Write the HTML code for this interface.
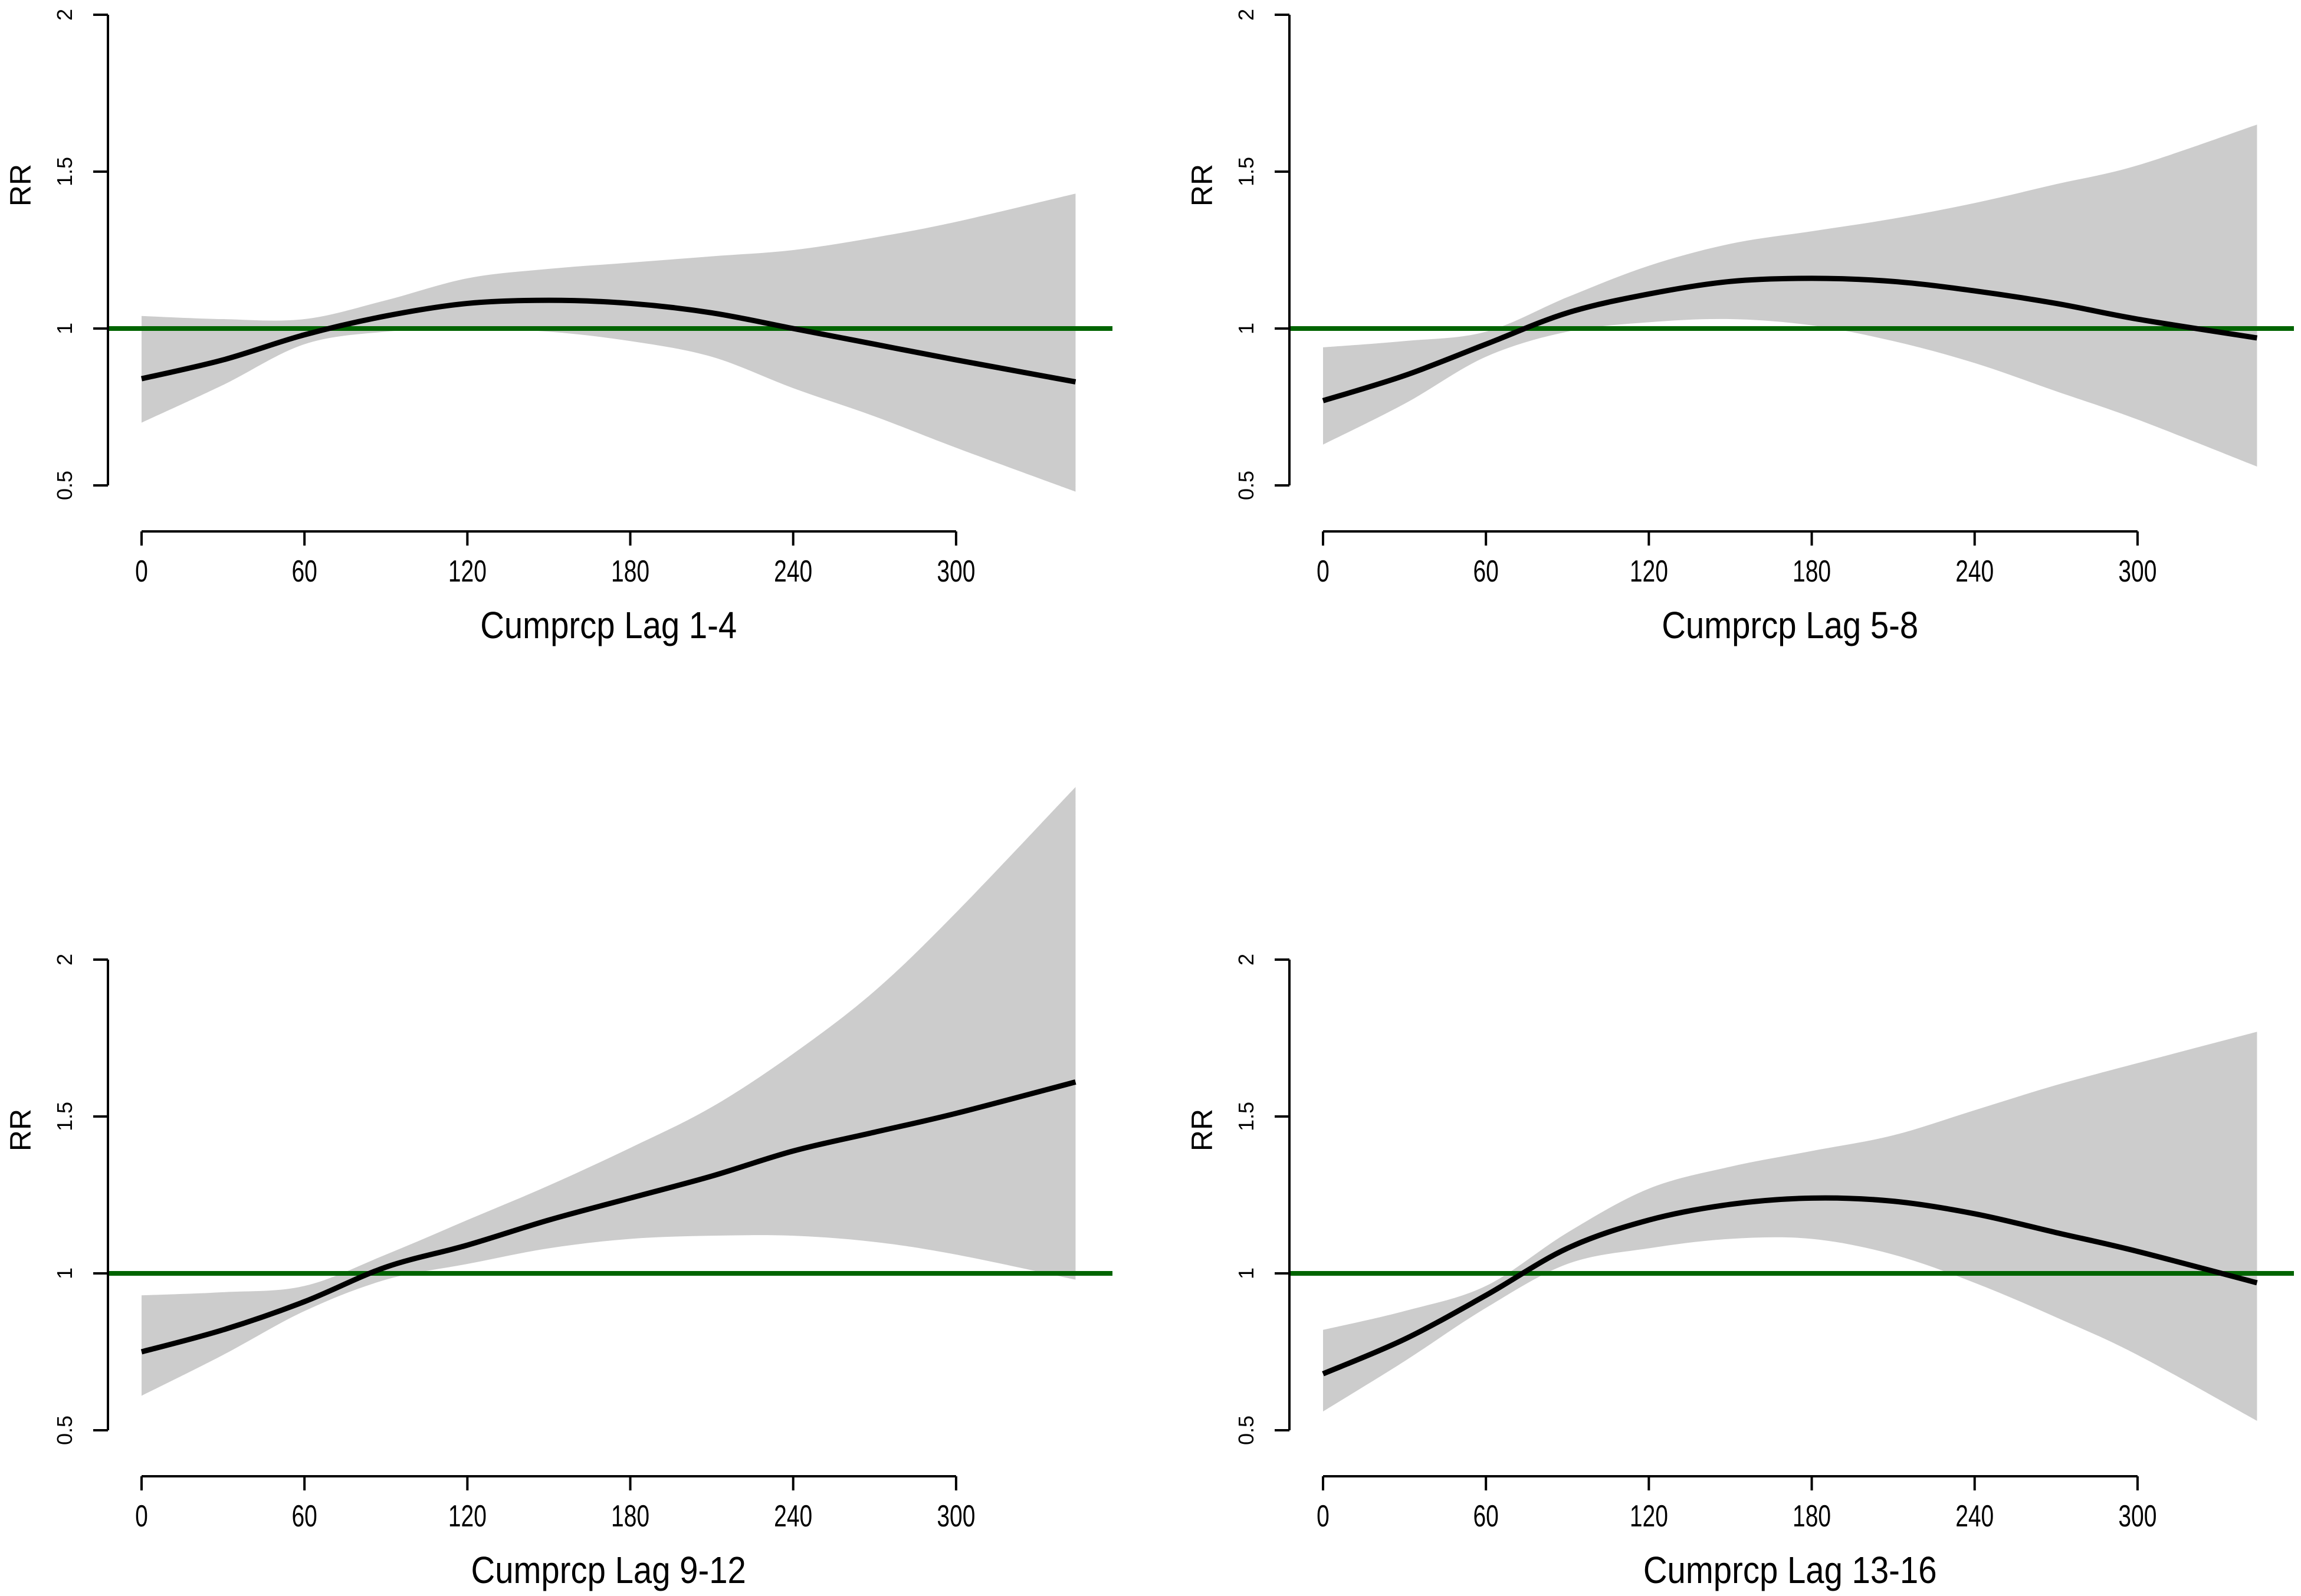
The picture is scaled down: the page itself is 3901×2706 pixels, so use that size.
<!DOCTYPE html>
<html><head><meta charset="utf-8"><style>
html,body{margin:0;padding:0;background:#fff;}
svg{display:block;}
text{font-family:"Liberation Sans",sans-serif;fill:#000;}
</style></head><body>
<svg id="chart" width="3901" height="2706" viewBox="0 0 3901 2706" xmlns="http://www.w3.org/2000/svg"></svg>
<script>
const xs = [0,30,60,90,120,150,180,210,240,270,300,344];
const titles = ["Cumprcp Lag 1-4","Cumprcp Lag 5-8","Cumprcp Lag 9-12","Cumprcp Lag 13-16"];
const fit1 = [0.84,0.90,0.98,1.04,1.08,1.09,1.08,1.05,1.00,0.95,0.90,0.83];
const lo1  = [0.70,0.82,0.95,0.99,1.00,0.99,0.96,0.91,0.81,0.72,0.62,0.48];
const hi1  = [1.04,1.03,1.03,1.09,1.16,1.19,1.21,1.23,1.25,1.29,1.34,1.43];
const fit2 = [0.77,0.85,0.95,1.05,1.11,1.15,1.16,1.15,1.12,1.08,1.03,0.97];
const lo2  = [0.63,0.76,0.91,0.99,1.02,1.03,1.01,0.96,0.89,0.80,0.71,0.56];
const hi2  = [0.94,0.96,0.99,1.10,1.20,1.27,1.31,1.35,1.40,1.46,1.52,1.65];
const fit3 = [0.75,0.82,0.91,1.02,1.09,1.17,1.24,1.31,1.39,1.45,1.51,1.61];
const lo3  = [0.61,0.74,0.88,0.98,1.03,1.08,1.11,1.12,1.12,1.10,1.06,0.98];
const hi3  = [0.93,0.94,0.96,1.06,1.17,1.28,1.40,1.53,1.70,1.90,2.15,2.55];
const fit4 = [0.68,0.79,0.93,1.08,1.17,1.22,1.24,1.23,1.19,1.13,1.07,0.97];
const lo4  = [0.56,0.72,0.89,1.03,1.08,1.11,1.11,1.06,0.97,0.86,0.74,0.53];
const hi4  = [0.82,0.88,0.96,1.13,1.27,1.34,1.39,1.44,1.52,1.60,1.67,1.77];
const xTicks = [0,60,120,180,240,300];
const yTicks = [0.5,1,1.5,2];
const yTickLabels = ["0.5","1","1.5","2"];

const svg = document.getElementById('chart');
const NS = "http://www.w3.org/2000/svg";
function mk(tag, attrs, parent){const e=document.createElementNS(NS,tag);for(const k in attrs)e.setAttribute(k,attrs[k]);(parent||svg).appendChild(e);return e;}

function smooth(pts){
  let d = "M"+pts[0][0]+","+pts[0][1];
  for(let i=0;i<pts.length-1;i++){
    const p0=pts[Math.max(0,i-1)],p1=pts[i],p2=pts[i+1],p3=pts[Math.min(pts.length-1,i+2)];
    const c1=[p1[0]+(p2[0]-p0[0])/6,p1[1]+(p2[1]-p0[1])/6];
    const c2=[p2[0]-(p3[0]-p1[0])/6,p2[1]-(p3[1]-p1[1])/6];
    d+=" C"+c1[0]+","+c1[1]+" "+c2[0]+","+c2[1]+" "+p2[0]+","+p2[1];
  }
  return d;
}

const panels = [[fit1,lo1,hi1],[fit2,lo2,hi2],[fit3,lo3,hi3],[fit4,lo4,hi4]];
panels.forEach((p,i)=>{
  const dx = (i%2)*2003, dy = Math.floor(i/2)*1602;
  const X = v => dx + 240 + v*4.603;
  const Y = v => dy + 557 - (v-1)*532;
  const g = mk('g',{});
  
  
  const up = xs.map((x,j)=>[X(x),Y(p[2][j])]);
  const dn = xs.map((x,j)=>[X(x),Y(p[1][j])]).reverse();
  const band = mk('path',{d:smooth(up)+" L"+dn[0][0]+","+dn[0][1]+smooth(dn).replace(/^M[^ ]+/,"")+" Z",fill:"#cccccc",stroke:"none"},g);
  
  
  const ref = mk('line',{x1:dx+183,x2:dx+1886,y1:Y(1),y2:Y(1),stroke:"#006400","stroke-width":8},g);
  
  
  const fit = mk('path',{d:smooth(xs.map((x,j)=>[X(x),Y(p[0][j])])),fill:"none",stroke:"#000","stroke-width":9},g);
  
  
  const ya = mk('line',{x1:dx+183,x2:dx+183,y1:Y(2),y2:Y(0.5),stroke:"#000","stroke-width":4},g);
  
  
  yTicks.forEach((t,k)=>{
    mk('line',{x1:dx+158,x2:dx+183,y1:Y(t),y2:Y(t),stroke:"#000","stroke-width":4},g);
    const tx = mk('text',{x:0,y:0,"font-size":36,"text-anchor":"middle",transform:"translate("+(dx+122)+","+Y(t)+") rotate(-90)"},g);
    tx.textContent = yTickLabels[k];
    
    
  });
  const rr = mk('text',{x:0,y:0,"font-size":50,"text-anchor":"middle",transform:"translate("+(dx+52)+","+(dy+314)+") rotate(-90)"},g);
  rr.textContent="RR";
  
  
  const xa = mk('line',{x1:X(0),x2:X(300),y1:dy+901,y2:dy+901,stroke:"#000","stroke-width":4},g);
  
  
  xTicks.forEach(t=>{
    mk('line',{x1:X(t),x2:X(t),y1:dy+901,y2:dy+925,stroke:"#000","stroke-width":4},g);
    const tx = mk('text',{x:X(t),y:dy+986,"font-size":52,"text-anchor":"middle",transform:"translate("+X(t)+",0) scale(0.75,1) translate("+(-X(t))+",0)"},g);
    tx.textContent = String(t);
    
    
  });
  const cx = X(172);
  const tt = mk('text',{x:cx,y:dy+1082,"font-size":64,"text-anchor":"middle",transform:"translate("+cx+",0) scale(0.88,1) translate("+(-cx)+",0)"},g);
  tt.textContent = titles[i];
  
  
});
</script>
</body></html>
